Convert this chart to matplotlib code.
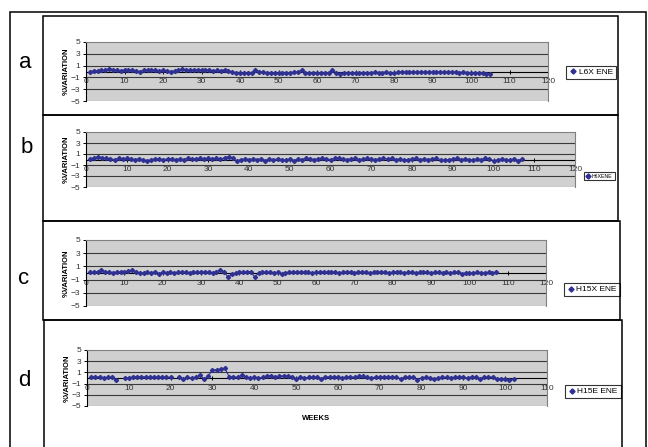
import matplotlib
matplotlib.use('Agg')
import matplotlib.pyplot as plt
import numpy as np
from matplotlib.patches import Rectangle
from matplotlib.lines import Line2D

plt.rcParams['font.family'] = ['Liberation Sans', 'DejaVu Sans']

# weekly % variation
l6x_ene = [0.0, 0.1, 0.1, 0.2, 0.2, 0.5, 0.3, 0.2, 0.1, 0.3,
           0.2, 0.3, 0.1, 0.0, 0.2, 0.3, 0.2, 0.2, 0.1, 0.2,
           0.1, 0.0, 0.1, 0.2, 0.4, 0.2, 0.3, 0.2, 0.3, 0.2,
           0.3, 0.2, 0.1, 0.2, 0.1, 0.3, 0.1, -0.1, -0.3, -0.3,
           -0.3, -0.2, -0.3, 0.2, 0.0, -0.1, -0.3, -0.2, -0.3, -0.2,
           -0.2, -0.3, -0.2, -0.1, -0.1, 0.2, -0.2, -0.3, -0.2, -0.3,
           -0.2, -0.3, -0.2, 0.3, -0.3, -0.4, -0.3, -0.3, -0.2, -0.3,
           -0.2, -0.3, -0.2, -0.3, -0.1, -0.2, -0.2, -0.1, -0.2, -0.3,
           -0.1, 0.0, -0.1, -0.1, 0.0, -0.1, -0.1, 0.0, -0.1, -0.1,
           0.0, -0.1, -0.1, 0.0, -0.1, -0.1, -0.2, -0.1, -0.2, -0.2,
           -0.3, -0.2, -0.3, -0.4, -0.5]

h6xene = [0.1, 0.3, 0.5, 0.3, 0.2, 0.1, 0.0, 0.2, 0.1, 0.2,
          0.1, 0.0, 0.1, 0.0, -0.3, 0.0, 0.1, 0.1, 0.0, 0.1,
          0.1, 0.0, 0.1, 0.0, 0.2, 0.1, 0.1, 0.2, 0.1, 0.2,
          0.1, 0.2, 0.1, 0.3, 0.5, 0.2, -0.3, 0.0, 0.1, 0.0,
          0.1, 0.0, 0.1, -0.2, 0.1, 0.0, 0.1, 0.0, -0.1, 0.1,
          -0.2, 0.1, 0.0, 0.2, 0.1, 0.0, 0.1, 0.2, 0.1, 0.0,
          0.2, 0.3, 0.1, 0.0, 0.1, 0.2, 0.0, 0.1, 0.2, 0.1,
          0.0, 0.1, 0.2, 0.1, 0.2, 0.0, 0.1, -0.1, 0.0, 0.1,
          0.2, 0.0, 0.1, 0.0, 0.1, 0.2, 0.0, -0.1, 0.0, 0.1,
          0.2, 0.0, 0.1, 0.0, -0.1, 0.1, 0.0, 0.2, 0.1, -0.2,
          -0.1, 0.1, 0.0, -0.1, 0.1, -0.2, 0.1]

h15x_ene = [0.1, 0.1, 0.2, 0.4, 0.2, 0.1, 0.0, 0.2, 0.1, 0.2,
            0.3, 0.4, 0.2, 0.0, 0.0, 0.1, 0.0, 0.2, -0.1, 0.1,
            0.0, 0.1, 0.0, 0.1, 0.1, 0.1, 0.0, 0.1, 0.1, 0.1,
            0.2, 0.1, 0.0, 0.2, 0.4, 0.2, -0.6, -0.2, 0.0, 0.1,
            0.1, 0.2, 0.2, -0.6, 0.0, 0.1, 0.1, 0.1, 0.0, 0.1,
            -0.1, 0.0, 0.1, 0.1, 0.2, 0.1, 0.2, 0.1, 0.0, 0.1,
            0.1, 0.2, 0.1, 0.2, 0.1, 0.0, 0.1, 0.2, 0.1, 0.0,
            0.2, 0.1, 0.1, 0.0, 0.1, 0.1, 0.2, 0.1, 0.0, 0.1,
            0.2, 0.1, 0.0, 0.1, 0.1, 0.0, 0.1, 0.2, 0.1, 0.0,
            0.1, 0.1, 0.0, 0.1, 0.0, 0.1, 0.1, -0.1, 0.0, 0.0,
            0.0, 0.1, 0.0, 0.0, 0.1, 0.0, 0.1]

nan = np.nan
h15e_ene = [0.2, 0.2, 0.2, 0.0, 0.1, 0.1, -0.4, nan, 0.0, 0.0,
            0.2, 0.2, 0.2, 0.2, 0.1, 0.1, 0.1, 0.1, 0.1, 0.1,
            nan, 0.2, -0.2, 0.1, 0.0, 0.1, 0.5, -0.2, 0.4, 1.4,
            1.5, 1.6, 1.7, 0.2, 0.2, 0.1, 0.5, 0.1, 0.0, 0.1,
            0.0, 0.1, 0.4, 0.4, 0.2, 0.3, 0.4, 0.4, 0.2, -0.1,
            0.2, 0.0, 0.1, 0.2, 0.1, -0.1, 0.2, 0.2, 0.1, 0.2,
            0.0, 0.1, 0.2, 0.1, 0.3, 0.3, 0.1, 0.0, 0.2, 0.1,
            0.2, 0.1, 0.2, 0.1, -0.1, 0.1, 0.2, 0.1, -0.3, 0.0,
            0.1, 0.0, -0.2, 0.0, 0.1, 0.1, 0.0, 0.1, 0.2, 0.1,
            0.0, 0.2, 0.1, -0.1, 0.1, 0.2, 0.1, -0.1, -0.2, -0.1,
            -0.3, -0.2]

yticks = [5, 3, 1, -1, -3, -5]
panels = [
    # letter, label, values, xmax, plot box px (x0, y0, x1, y1), legend centre px, legend font
    ('a', 'L6X ENE', l6x_ene, 120, (86, 42, 548, 101), (591, 72.5), 6.0),
    ('b', 'H6XENE', h6xene, 120, (86, 132, 575, 187), (599.5, 176), 3.8),
    ('c', 'H15X ENE', h15x_ene, 120, (86, 240, 546, 306), (592, 289.5), 6.0),
    ('d', 'H15E ENE', h15e_ene, 110, (87, 350, 547, 406), (593, 391.5), 6.0),
]
letter_pos = [(25, 62), (27, 147), (24, 279), (24, 380)]

W, H = 648, 447
fig = plt.figure(figsize=(W / 100, H / 100), dpi=100)
fig.patch.set_facecolor('white')

def fx(px):
    return px / W

def fy(py):
    return 1 - py / H

navy = '#2E3192'

for (letter, label, vals, xmax, box, legc, legfs), lp in zip(panels, letter_pos):
    x0, y0, x1, y1 = box
    ax = fig.add_axes([fx(x0), fy(y1), fx(x1 - x0), (y1 - y0) / H])
    ax.set_facecolor('#D0D0D0')
    weeks = np.arange(1, len(vals) + 1)
    ax.plot(weeks, vals, color=navy, lw=0.8, marker='D', ms=2.1,
            mec=navy, mfc=navy, zorder=3, clip_on=False)
    ax.set_xlim(0, xmax)
    ax.set_ylim(-5, 5)
    ax.set_yticks(yticks)
    ax.set_xticks(np.arange(0, xmax + 1, 10))
    for g in [3, 1, -1, -3]:
        ax.axhline(g, color='#3A3A3A', lw=0.8, zorder=1)
    for s in ['top', 'right']:
        ax.spines[s].set_color('#808080')
        ax.spines[s].set_linewidth(0.8)
    ax.spines['left'].set_color('black')
    ax.spines['left'].set_linewidth(0.8)
    ax.spines['bottom'].set_position(('data', 0))
    ax.spines['bottom'].set_color('black')
    ax.spines['bottom'].set_linewidth(0.8)
    ax.spines['bottom'].set_zorder(2)
    # gray frame bottom edge
    ax.axhline(-5, color='#808080', lw=0.8, zorder=1)
    ax.tick_params(axis='x', direction='inout', length=3, width=0.7, pad=3.2,
                   labelsize=6, labelcolor='#333333')
    ax.tick_params(axis='y', direction='out', length=2.5, width=0.7, pad=1.5,
                   labelsize=6, labelcolor='#333333')
    ax.set_ylabel('%VARIATION', fontsize=5.5, fontweight='bold', labelpad=1)
    h = Line2D([], [], color=navy, marker='D', ms=2.6, lw=0)
    leg = ax.legend([h], [label], loc='center', fontsize=legfs,
                    bbox_to_anchor=(fx(legc[0]), fy(legc[1])),
                    bbox_transform=fig.transFigure, frameon=True, fancybox=False,
                    handlelength=0.8, handletextpad=0.3, borderpad=0.35,
                    borderaxespad=0)
    leg.get_frame().set_edgecolor('black')
    leg.get_frame().set_linewidth(0.8)
    fig.text(fx(lp[0]), fy(lp[1]), letter, fontsize=16, ha='center', va='center')

fig.text(fx(316), fy(419), 'WEEKS', fontsize=5.5, fontweight='bold',
         ha='center', va='center')

# outer frame and panel boxes
def rect(x0, y0, x1, y1, lw=1.1):
    fig.patches.append(Rectangle((fx(x0), fy(y1)), fx(x1 - x0), (y1 - y0) / H,
                                 transform=fig.transFigure, fill=False,
                                 edgecolor='black', lw=lw, zorder=0))

rect(10, 12, 646, 448)
rect(43, 16, 618, 115)
rect(43, 115, 618, 221)
rect(43, 221, 620, 320)
rect(44, 320, 622, 449)

fig.savefig('out.png', dpi=100, facecolor='white')
